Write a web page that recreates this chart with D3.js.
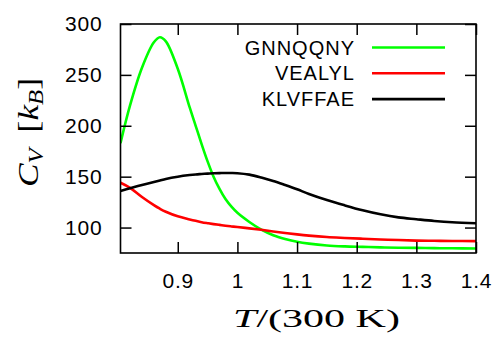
<!DOCTYPE html>
<html><head><meta charset="utf-8">
<script src="https://cdn.jsdelivr.net/npm/d3@7"></script>
<style>
html,body{margin:0;padding:0;background:#fff;}
svg{display:block;}
</style></head>
<body>
<svg id="chart" width="498" height="337"></svg>
<script>
const temps = [0.804,0.82,0.84,0.86,0.87,0.88,0.90,0.92,0.93,0.94,0.95,0.96,0.97,0.98,0.99,1.00,1.02,1.04,1.06,1.08,1.10,1.12,1.15,1.18,1.21,1.24,1.27,1.30,1.33,1.36,1.40];
const gnnqqny = [183,220,257,282,287,283,256,218,200,182,165,150,138,128,120.5,114.5,105.5,98,92.5,88.8,86,84.2,82.4,81.5,81,80.5,80.2,80,79.8,79.6,79.4];
const vealyl  = [144,139,130,122,118.5,115.5,111,108,106.6,105.3,104.3,103.4,102.6,101.8,101.1,100.5,99.2,97.8,96.2,94.7,93.3,92.1,90.7,89.8,89,88.3,87.7,87.2,87,86.8,86.7];
const klvffae = [136,138.6,141.8,144.8,146.3,147.8,150,151.6,152.2,152.6,153,153.3,153.5,153.6,153.6,153.4,152,149.2,145.8,141.8,137.6,133,127,121.8,117,113,110,108.2,106.5,105.2,104.2];
const seriesNames = ["GNNQQNY","VEALYL","KLVFFAE"];
const seriesColors = ["#00ff00","#ff0000","#000000"];
const xTicks = [0.9,1.0,1.1,1.2,1.3,1.4];
const xTickLabels = ["0.9","1","1.1","1.2","1.3","1.4"];
const yTicks = [100,150,200,250,300];

const svg = d3.select("#chart");
const L = 120.5, R = 476, T = 24, B = 253;
const x = d3.scaleLinear().domain([0.804,1.4]).range([L,R]);
const y = d3.scaleLinear().domain([75,300]).range([B,T]);

const sans = "'Liberation Sans', Arial, Helvetica, sans-serif";
const serif = "'Liberation Serif', 'Times New Roman', serif";

svg.append("clipPath").attr("id","clip").append("rect")
  .attr("x",L).attr("y",T).attr("width",R-L).attr("height",B-T);

const line = d3.line().curve(d3.curveCatmullRom.alpha(0.5));
const allSeries = [gnnqqny, vealyl, klvffae];
const g = svg.append("g").attr("clip-path","url(#clip)");
allSeries.forEach((s,i)=>{
  g.append("path")
    .attr("d", line(temps.map((t,j)=>[x(t), y(s[j])])))
    .attr("fill","none").attr("stroke",seriesColors[i]).attr("stroke-width",2.6)
    .attr("stroke-linejoin","round");
});

const tickLen = 11;
const axB = d3.axisBottom(x).tickValues(xTicks).tickSizeInner(-tickLen).tickSizeOuter(0).tickFormat((d,i)=>xTickLabels[i]).tickPadding(20);
const axT = d3.axisTop(x).tickValues(xTicks).tickSizeInner(-tickLen).tickSizeOuter(0).tickFormat("");
const axL = d3.axisLeft(y).tickValues(yTicks).tickSizeInner(-tickLen).tickSizeOuter(0).tickPadding(18);
const axR = d3.axisRight(y).tickValues(yTicks).tickSizeInner(-tickLen).tickSizeOuter(0).tickFormat("");

function style(sel){
  sel.select(".domain").remove();
  sel.selectAll(".tick line").attr("stroke","#000").attr("stroke-width",1.5);
  sel.selectAll("text").attr("font-family",sans).attr("font-size",21).attr("fill","#000").attr("letter-spacing","0.8px");
}
svg.append("g").attr("transform",`translate(0,${B})`).call(axB).call(style).selectAll("text").attr("dy","0.71em");
svg.append("g").attr("transform",`translate(0,${T})`).call(axT).call(style);
svg.append("g").attr("transform",`translate(${L},0)`).call(axL).call(style);
svg.append("g").attr("transform",`translate(${R},0)`).call(axR).call(style);

svg.append("rect").attr("x",L).attr("y",T).attr("width",R-L).attr("height",B-T)
  .attr("fill","none").attr("stroke","#000").attr("stroke-width",1.6);

const leg = svg.append("g");
seriesNames.forEach((n,i)=>{
  const yy = 47.5 + i*25.8;
  leg.append("text").attr("x",355).attr("y",yy).attr("dy","0.35em")
    .attr("text-anchor","end").attr("font-family",sans).attr("font-size",20)
    .attr("letter-spacing","1px").text(n);
  leg.append("line").attr("x1",372).attr("x2",445).attr("y1",yy).attr("y2",yy)
    .attr("stroke",seriesColors[i]).attr("stroke-width",2.6);
});

// y title
const ylg = svg.append("g");
const yl = ylg.append("text").attr("text-anchor","middle").attr("font-family",serif).attr("font-size",30);
yl.append("tspan").attr("font-style","italic").text("C");
yl.append("tspan").attr("font-style","italic").attr("font-size",21).attr("dy",5).text("V");
yl.append("tspan").attr("dy",-5).text("\u2009 [");
yl.append("tspan").attr("font-style","italic").text("k");
yl.append("tspan").attr("font-style","italic").attr("font-size",21).attr("dy",5).text("B");
yl.append("tspan").attr("dy",-5).text("]");
const ywb = yl.node().getBBox().width;
ylg.attr("transform",`translate(38,132.5) rotate(-90) scale(${109/ywb},1)`);

// x title
const xlg = svg.append("g");
const xl = xlg.append("text").attr("text-anchor","middle").attr("font-family",serif).attr("font-size",26);
xl.append("tspan").attr("font-style","italic").text("T");
xl.append("tspan").text("/(300 K)");
const xwb = xl.node().getBBox().width;
xlg.attr("transform",`translate(316.5,327) scale(${167/xwb},1)`);
</script>
</body></html>
